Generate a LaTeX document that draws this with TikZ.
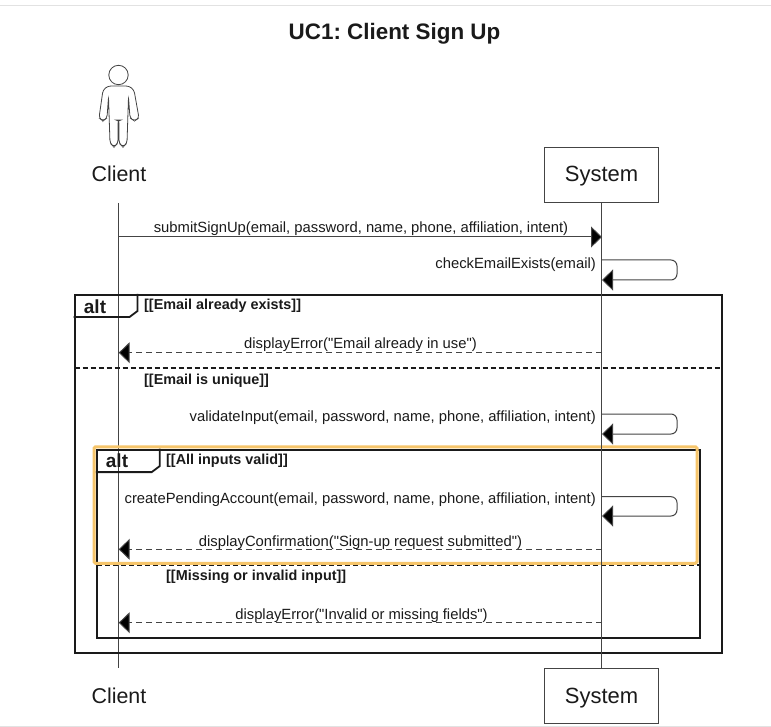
\documentclass[tikz,border=0pt]{standalone}
\usepackage{xcolor}
\usepackage{fontspec}
\setmainfont{Liberation Sans}[Ligatures=TeXOff]
\usetikzlibrary{arrows.meta, positioning}
\definecolor{lineblack}{HTML}{1A1A1A}
\definecolor{linegrey}{HTML}{444444}
\definecolor{highlight}{HTML}{F6C56B}
\definecolor{pageline}{HTML}{E2E2E2}

\begin{document}
\frenchspacing
\begin{tikzpicture}[
  x=1pt, y=-1pt,
  head/.style={rectangle, draw=linegrey, line width=0.9pt, minimum width=114pt, minimum height=55pt, inner sep=0pt},
  actorname/.style={inner sep=0pt, anchor=base, text=lineblack, font=\fontsize{22}{24}\selectfont},
  lifeline/.style={draw=linegrey, line width=1pt},
  msg/.style={draw=linegrey, line width=1pt, -{Triangle[length=11pt, width=21pt, fill=black]}},
  reply/.style={msg, dash pattern=on 6pt off 4pt},
  msgtext/.style={inner sep=0pt, anchor=base, text=lineblack, font=\fontsize{14.8}{17}\selectfont},
  guard/.style={inner sep=0pt, anchor=base west, text=lineblack, font=\bfseries\fontsize{14.4}{16}\selectfont},
  alttext/.style={inner sep=0pt, anchor=base, text=lineblack, font=\bfseries\fontsize{19}{21}\selectfont},
  frame/.style={rectangle, draw=lineblack, line width=2pt, inner sep=0pt},
  tab/.style={draw=lineblack, line width=1.8pt},
  divider/.style={draw=lineblack, line width=2pt, dash pattern=on 5pt off 3pt}
]
\useasboundingbox (0,0) rectangle (771,727);

% Page edges
\draw[pageline] (0,5.5) -- (771,5.5);
\draw[pageline] (0,726) -- (771,726);

% Title
\node[inner sep=0pt, anchor=base, text=lineblack, font=\bfseries\fontsize{22.4}{24}\selectfont] (title) at (394.5,39.5) {UC1: Client Sign Up};

% Actor
\draw[linegrey, line width=0.8pt] (118.5,75) circle (9.7);
\draw[linegrey, line width=0.8pt, rounded corners=3pt] (108,86) -- (103,90) -- (99,118) -- (103,121) -- (107,118) -- (108.5,97) -- (110,143) -- (114,147) -- (118,143) -- (118,120)
  -- (119,120) -- (119,143) -- (123,147) -- (127,143) -- (128.5,97) -- (130,118) -- (134.5,121) -- (139,118) -- (134,90) -- (129,86) -- cycle;

% Participants
\node[actorname, font=\fontsize{21.4}{24}\selectfont] (clientTop) at (119,182) {Client};
\node[head] (systemTop) at (601.5,174.5) {};
\node[actorname] (systemTopName) at (601.5,182) {System};
\node[actorname, font=\fontsize{21.4}{24}\selectfont] (clientBot) at (119,703.5) {Client};
\node[head] (systemBot) at (601.5,695.5) {};
\node[actorname] (systemBotName) at (601.5,703.5) {System};

% Lifelines
\coordinate (clientStart) at (118.7,203);
\coordinate (clientEnd) at (118.7,668);
\draw[lifeline] (clientStart) -- (clientEnd);

% Outer frame
\node[frame, minimum width=647.5pt, minimum height=358pt] (outerAlt) at (398.25,474) {};
\draw[tab] (outerAlt.north west) ++(0,23) -- ++(56,0) -- ++(8,-6) -- ++(0,-17);
\node[alttext] (outerName) at (95,313) {alt};
\node[guard] (guardExists) at (144,310) {[[Email already exists]]};
\coordinate (dividerA) at (74.5,367.5);
\coordinate (dividerB) at (722,367.5);
\draw[divider] (dividerA) -- (dividerB);
\node[guard] (guardUnique) at (144,384.5) {[[Email is unique]]};

% Inner frame
\node[frame, minimum width=603pt, minimum height=188pt] (innerAlt) at (398.2,543.6) {};
\draw[tab] (innerAlt.north west) ++(0,23.5) -- ++(56,0) -- ++(8,-6) -- ++(0,-17.5);
\node[alttext] (innerName) at (117,467) {alt};
\node[guard] (guardValid) at (166,464) {[[All inputs valid]]};
\coordinate (dividerC) at (96.7,565);
\coordinate (dividerD) at (699.7,565);
\draw[divider] (dividerC) -- (dividerD);
\node[guard] (guardMissing) at (166,580.5) {[[Missing or invalid input]]};

% Highlight
\node[rectangle, draw=highlight, line width=3pt, rounded corners=1.5pt, inner sep=0pt, minimum width=603pt, minimum height=116.5pt] (selection) at (395.5,505) {};

% Lifeline of the system, over the frames
\draw[lifeline] (systemTop) -- (systemBot);

% Messages
\coordinate (c1) at (118.7,237);
\coordinate (s1) at (602,237);
\draw[msg] (c1) -- (s1);
\node[msgtext] (m1) at (361,233) {submitSignUp(email, password, name, phone, affiliation, intent)};

\coordinate (s2a) at (602,260);
\coordinate (s2b) at (602,280);
\draw[msg, rounded corners=6pt] (s2a) -- ++(75,0) -- ++(0,20) -- (s2b);
\node[msgtext, anchor=base east] (m2) at (596,268.5) {checkEmailExists(email)};

\coordinate (s3) at (602,352.7);
\coordinate (c3) at (118.7,352.7);
\draw[reply] (s3) -- (c3);
\node[msgtext] (m3) at (360.5,348.5) {displayError("Email already in use")};

\coordinate (s4a) at (602,414);
\coordinate (s4b) at (602,434);
\draw[msg, rounded corners=6pt] (s4a) -- ++(75,0) -- ++(0,20) -- (s4b);
\node[msgtext, anchor=base east] (m4) at (596,421.5) {validateInput(email, password, name, phone, affiliation, intent)};

\coordinate (s5a) at (602,496.7);
\coordinate (s5b) at (602,516);
\draw[msg, rounded corners=6pt] (s5a) -- ++(75,0) -- ++(0,19.3) -- (s5b);
\node[msgtext, anchor=base east] (m5) at (596,503.5) {createPendingAccount(email, password, name, phone, affiliation, intent)};

\coordinate (s6) at (602,549.3);
\coordinate (c6) at (118.7,549.3);
\draw[reply] (s6) -- (c6);
\node[msgtext] (m6) at (360.5,546.5) {displayConfirmation("Sign-up request submitted")};

\coordinate (s7) at (602,622.7);
\coordinate (c7) at (118.7,622.7);
\draw[reply] (s7) -- (c7);
\node[msgtext] (m7) at (361.5,619.5) {displayError("Invalid or missing fields")};

\end{tikzpicture}
\end{document}
